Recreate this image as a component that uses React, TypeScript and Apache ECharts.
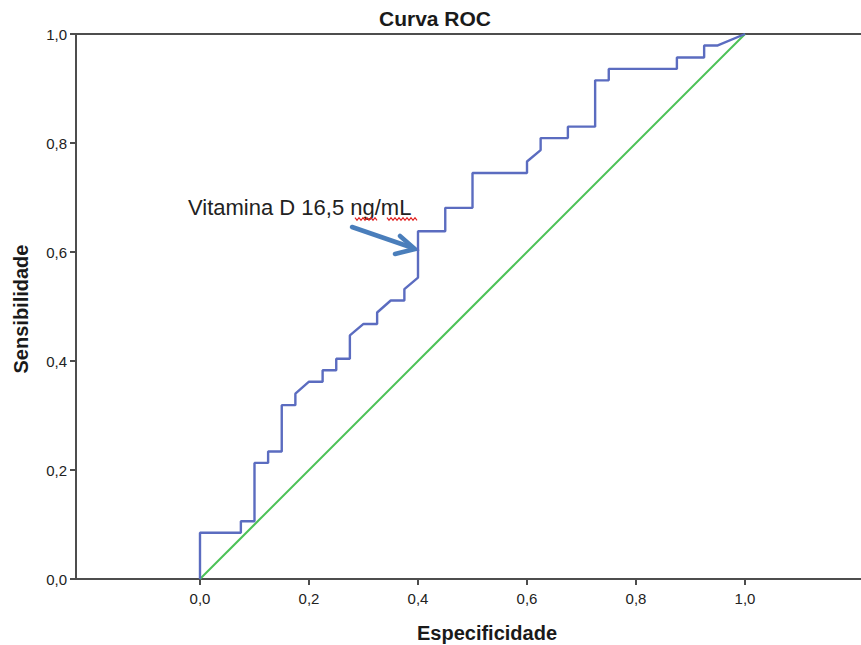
import React, { useEffect, useRef } from "react";
import * as echarts from "echarts";

// ROC curve (x = Especificidade axis, y = Sensibilidade)
const rocX = [
  0, 0, 0.075, 0.075, 0.1, 0.1, 0.125, 0.125, 0.15, 0.15, 0.175, 0.175, 0.2,
  0.225, 0.225, 0.25, 0.25, 0.275, 0.275, 0.3, 0.325, 0.325, 0.35, 0.375, 0.375,
  0.4, 0.4, 0.45, 0.45, 0.5, 0.5, 0.6, 0.6, 0.625, 0.625, 0.675, 0.675, 0.725,
  0.725, 0.75, 0.75, 0.875, 0.875, 0.925, 0.925, 0.95, 1,
];
const rocY = [
  0, 0.085, 0.085, 0.106, 0.106, 0.213, 0.213, 0.234, 0.234, 0.319, 0.319,
  0.34, 0.362, 0.362, 0.383, 0.383, 0.404, 0.404, 0.447, 0.468, 0.468, 0.489,
  0.511, 0.511, 0.532, 0.553, 0.638, 0.638, 0.681, 0.681, 0.745, 0.745, 0.766,
  0.787, 0.809, 0.809, 0.83, 0.83, 0.915, 0.915, 0.936, 0.936, 0.957, 0.957,
  0.979, 0.979, 1,
];
const refX = [0, 1];
const refY = [0, 1];
const tickValues = [0, 0.2, 0.4, 0.6, 0.8, 1.0];

const titleText = "Curva ROC";
const xName = "Especificidade";
const yName = "Sensibilidade";
const annotation = "Vitamina D 16,5 ng/mL";

const FONT = "'Liberation Sans', Arial, sans-serif";
const fmt = (v: number) => v.toFixed(1).replace(".", ",");

function zigzag(x0: number, x1: number, y: number): number[][] {
  const pts: number[][] = [];
  let up = true;
  for (let x = x0; x <= x1; x += 2) {
    pts.push([x, up ? y - 1.3 : y + 1.3]);
    up = !up;
  }
  return pts;
}

export default function App() {
  const ref = useRef<HTMLDivElement>(null);
  useEffect(() => {
    if (!ref.current) return;
    const chart = echarts.init(ref.current, undefined, { renderer: "svg" });
    const axisColor = "#4d4d4d";
    chart.setOption({
      animation: false,
      backgroundColor: "#ffffff",
      grid: { left: 76, right: 0, top: 34, bottom: 66, containLabel: false },
      xAxis: [
        {
          type: "value",
          min: -0.2275,
          max: 1.2128,
          splitLine: { show: false },
          axisLine: { show: true, onZero: false, lineStyle: { color: axisColor, width: 2 } },
          axisTick: { show: true, customValues: tickValues, length: 6, lineStyle: { color: axisColor, width: 2 } },
          axisLabel: {
            customValues: tickValues,
            formatter: fmt,
            color: "#222",
            fontFamily: FONT,
            fontSize: 15,
            margin: 12,
          },
        },
        {
          type: "value",
          position: "top",
          min: -0.2275,
          max: 1.2128,
          splitLine: { show: false },
          axisLine: { show: true, onZero: false, lineStyle: { color: axisColor, width: 2 } },
          axisTick: { show: false },
          axisLabel: { show: false },
        },
      ],
      yAxis: {
        type: "value",
        min: 0,
        max: 1,
        interval: 0.2,
        splitLine: { show: false },
        axisLine: { show: true, onZero: false, lineStyle: { color: axisColor, width: 2 } },
        axisTick: { show: true, length: 6, lineStyle: { color: axisColor, width: 2 } },
        axisLabel: {
          formatter: fmt,
          color: "#222",
          fontFamily: FONT,
          fontSize: 15,
          margin: 9,
        },
      },
      series: [
        {
          type: "line",
          data: refX.map((x, i) => [x, refY[i]]),
          showSymbol: false,
          symbol: "none",
          lineStyle: { color: "#4cc257", width: 2 },
          silent: true,
        },
        {
          type: "line",
          data: rocX.map((x, i) => [x, rocY[i]]),
          showSymbol: false,
          symbol: "none",
          lineStyle: { color: "#5b6cc0", width: 2.4 },
          silent: true,
        },
      ],
      graphic: [
        {
          type: "text",
          x: 435,
          y: 18,
          style: {
            text: titleText,
            fontFamily: FONT,
            fontWeight: "bold",
            fontSize: 21,
            fill: "#1a1a1a",
            textAlign: "center",
            textVerticalAlign: "middle",
          },
        },
        {
          type: "text",
          x: 487,
          y: 633,
          style: {
            text: xName,
            fontFamily: FONT,
            fontWeight: "bold",
            fontSize: 20,
            fill: "#1a1a1a",
            textAlign: "center",
            textVerticalAlign: "middle",
          },
        },
        {
          type: "text",
          x: 21,
          y: 309,
          rotation: Math.PI / 2,
          style: {
            text: yName,
            fontFamily: FONT,
            fontWeight: "bold",
            fontSize: 20,
            fill: "#1a1a1a",
            textAlign: "center",
            textVerticalAlign: "middle",
          },
        },
        {
          type: "text",
          x: 188,
          y: 207,
          style: {
            text: annotation,
            fontFamily: FONT,
            fontSize: 22,
            fill: "#222",
            textAlign: "left",
            textVerticalAlign: "middle",
          },
        },
        {
          type: "polyline",
          shape: { points: zigzag(355, 378, 219) },
          style: { stroke: "#e02020", lineWidth: 1.2, fill: "none" },
        },
        {
          type: "polyline",
          shape: { points: zigzag(387, 418, 219) },
          style: { stroke: "#e02020", lineWidth: 1.2, fill: "none" },
        },
        {
          type: "line",
          shape: { x1: 352, y1: 227, x2: 413, y2: 248 },
          style: { stroke: "#4a7ebb", lineWidth: 4.5, lineCap: "round" },
        },
        {
          type: "polyline",
          shape: { points: [[400, 236], [415, 249], [395, 254]] },
          style: { stroke: "#4a7ebb", lineWidth: 4.5, fill: "none", lineJoin: "miter", lineCap: "round" },
        },
      ],
    });
    return () => chart.dispose();
  }, []);
  return (
    <div
      ref={ref}
      style={{ position: "fixed", left: 0, top: 0, width: 861, height: 645 }}
    />
  );
}
